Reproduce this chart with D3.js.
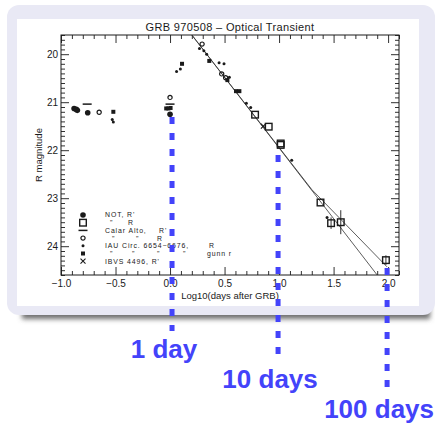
<!DOCTYPE html>
<html>
<head>
<meta charset="utf-8">
<script src="https://cdn.jsdelivr.net/npm/d3@7"></script>
<style>
  html, body { margin: 0; padding: 0; background: #fff; }
  svg { display: block; }
  text { font-family: "Liberation Sans", Helvetica, Arial, sans-serif; }
</style>
</head>
<body>
<div id="chart"></div>
<script>
// GRB 970508 light curve (log10 days, R mag)
var notRp   = [[-0.88, 21.13], [-0.86, 21.15], [-0.85, 21.17], [-0.755, 21.22], [0.0, 21.25]];
var notR    = [[0.78, 21.26], [0.905, 21.51], [1.015, 21.86], [1.015, 21.89], [1.38, 23.09],
               [1.477, 23.52, 0.12], [1.566, 23.50, 0.25], [1.98, 24.29, 0.10]];
var calarRp = [[-0.76, 21.04], [0.0, 21.04]];
var calarR  = [[-0.65, 21.21], [0.0, 20.90], [0.294, 19.79], [0.474, 20.41], [0.51, 20.49]];
var iauR    = [[-0.53, 21.36], [-0.52, 21.41], [0.06, 20.36], [0.095, 20.31], [0.27, 19.88],
               [0.31, 19.93], [0.336, 20.0], [0.45, 20.18], [0.495, 20.2], [0.544, 20.48],
               [0.70, 21.02], [0.74, 21.11], [1.116, 22.21], [1.44, 23.40]];
var iauGunn = [[-0.52, 21.2], [-0.035, 21.13], [-0.015, 21.13], [0.005, 21.12], [0.11, 20.2],
               [0.36, 20.14], [0.526, 20.54], [0.605, 20.77], [0.636, 20.77]];
var ibvsRp  = [[0.856, 21.5]];

var fitA = [[0.19, 19.57], [1.91, 24.63]];
var fitB = [[0.19, 19.57], [1.3, 22.82], [1.99, 24.43]];

var xMajor = [-1.0, -0.5, 0.0, 0.5, 1.0, 1.5, 2.0];
var xLabels = ['\u22121.0', '\u22120.5', '0.0', '0.5', '1.0', '1.5', '2.0'];
var yMajor = [20, 21, 22, 23, 24];

var legendRows = [
  ["NOT, R'"],
  ['"', 'R'],
  ['Calar Alto,', "R'"],
  ['"', '"', 'R'],
  ['IAU Circ. 6654\u22126676,', 'R'],
  ['"', '"', '"', '"', 'gunn r'],
  ["IBVS 4496, R'"]
];

var dayMarks = [0, 1, 2];
var dayLabels = ['1 day', '10 days', '100 days'];

// layout
var W = 435, H = 424,
    plotL = 61, plotR = 399, plotT = 35, plotB = 275,
    ink = '#1a1a1a',
    blue = '#4343fa';

var svg = d3.select('#chart').append('svg')
    .attr('width', W).attr('height', H);

var defs = svg.append('defs');
defs.append('filter').attr('id', 'blur')
    .attr('x', '-10%').attr('y', '-50%').attr('width', '120%').attr('height', '200%')
    .append('feGaussianBlur').attr('stdDeviation', 2.6);
defs.append('clipPath').attr('id', 'plotClip')
    .append('rect')
    .attr('x', plotL).attr('y', plotT)
    .attr('width', plotR - plotL).attr('height', plotB - plotT);

// card with shadow
svg.append('rect')
    .attr('x', 22).attr('y', 304).attr('width', 408).attr('height', 15)
    .attr('fill', '#6e6e6e').attr('filter', 'url(#blur)');
svg.append('rect')
    .attr('x', 7).attr('y', 5).attr('width', 428).attr('height', 310)
    .attr('rx', 12).attr('fill', '#e9e9f5');
svg.append('rect')
    .attr('x', 17).attr('y', 19).attr('width', 402).attr('height', 287)
    .attr('fill', '#ffffff');

var x = d3.scaleLinear().domain([-1.0, 2.1]).range([plotL, plotR]);
var y = d3.scaleLinear().domain([19.6, 24.6]).range([plotT, plotB]);

var xMinor = d3.range(-1.0, 2.1001, 0.1).filter(function(v) {
  return Math.abs(v * 2 - Math.round(v * 2)) > 1e-6;
});
var yMinor = d3.range(19.6, 24.6001, 0.1).filter(function(v) {
  return Math.abs(v - Math.round(v)) > 1e-6;
});

function styleAxis(g) {
  g.select('.domain').remove();
  g.selectAll('line').attr('stroke', ink).attr('stroke-width', 0.9);
  g.selectAll('text').attr('fill', ink).attr('font-size', '10px');
}

// ticks on all four sides, pointing inwards
svg.append('g').attr('transform', 'translate(0,' + plotB + ')')
    .call(d3.axisBottom(x).tickValues(xMajor).tickSize(-8).tickPadding(5)
      .tickFormat(function(d, i) { return xLabels[i]; }))
    .call(styleAxis);
svg.append('g').attr('transform', 'translate(0,' + plotB + ')')
    .call(d3.axisBottom(x).tickValues(xMinor).tickSize(-4).tickFormat(''))
    .call(styleAxis);
svg.append('g').attr('transform', 'translate(0,' + plotT + ')')
    .call(d3.axisTop(x).tickValues(xMajor).tickSize(-8).tickFormat(''))
    .call(styleAxis);
svg.append('g').attr('transform', 'translate(0,' + plotT + ')')
    .call(d3.axisTop(x).tickValues(xMinor).tickSize(-4).tickFormat(''))
    .call(styleAxis);

svg.append('g').attr('transform', 'translate(' + plotL + ',0)')
    .call(d3.axisLeft(y).tickValues(yMajor).tickSize(-8).tickPadding(3).tickFormat(d3.format('d')))
    .call(styleAxis);
svg.append('g').attr('transform', 'translate(' + plotL + ',0)')
    .call(d3.axisLeft(y).tickValues(yMinor).tickSize(-4).tickFormat(''))
    .call(styleAxis);
svg.append('g').attr('transform', 'translate(' + plotR + ',0)')
    .call(d3.axisRight(y).tickValues(yMajor).tickSize(-8).tickFormat(''))
    .call(styleAxis);
svg.append('g').attr('transform', 'translate(' + plotR + ',0)')
    .call(d3.axisRight(y).tickValues(yMinor).tickSize(-4).tickFormat(''))
    .call(styleAxis);

svg.append('rect')
    .attr('x', plotL).attr('y', plotT)
    .attr('width', plotR - plotL).attr('height', plotB - plotT)
    .attr('fill', 'none').attr('stroke', ink).attr('stroke-width', 1);

// titles
svg.append('text')
    .attr('x', (plotL + plotR) / 2).attr('y', 31)
    .attr('text-anchor', 'middle').attr('font-size', '11px')
    .attr('letter-spacing', '0.35px').attr('fill', ink)
    .text('GRB 970508 \u2013 Optical Transient');
svg.append('text')
    .attr('x', (plotL + plotR) / 2).attr('y', 299)
    .attr('text-anchor', 'middle').attr('font-size', '9.5px').attr('fill', ink)
    .text('Log10(days after GRB)');
svg.append('text')
    .attr('transform', 'translate(42,' + (plotT + plotB) / 2 + ') rotate(-90)')
    .attr('text-anchor', 'middle').attr('font-size', '9.5px').attr('fill', ink)
    .text('R magnitude');

// fits
var line = d3.line().x(function(d) { return x(d[0]); }).y(function(d) { return y(d[1]); });
var plot = svg.append('g').attr('clip-path', 'url(#plotClip)');
[fitA, fitB].forEach(function(f) {
  plot.append('path').datum(f).attr('d', line)
      .attr('fill', 'none').attr('stroke', '#333').attr('stroke-width', 0.8);
});

// marker painters
var painters = {
  filledCircle: function(g) {
    g.append('circle').attr('r', 2.8).attr('fill', ink);
  },
  openSquare: function(g) {
    g.append('rect').attr('x', -3.3).attr('y', -3.3).attr('width', 6.6).attr('height', 6.6)
        .attr('fill', 'none').attr('stroke', ink).attr('stroke-width', 1.4);
  },
  bar: function(g) {
    g.append('line').attr('x1', -4.5).attr('x2', 4.5)
        .attr('stroke', ink).attr('stroke-width', 1.5);
  },
  openCircle: function(g) {
    g.append('circle').attr('r', 2.1)
        .attr('fill', 'none').attr('stroke', ink).attr('stroke-width', 1.2);
  },
  dot: function(g) {
    g.append('circle').attr('r', 1.5).attr('fill', ink);
  },
  smallSquare: function(g) {
    g.append('rect').attr('x', -2).attr('y', -2).attr('width', 4).attr('height', 4).attr('fill', ink);
  },
  cross: function(g) {
    g.append('path').attr('d', 'M-2.5,-2.5L2.5,2.5M-2.5,2.5L2.5,-2.5')
        .attr('stroke', ink).attr('stroke-width', 1.1);
  }
};

var series = [
  {data: notRp, mark: 'filledCircle'},
  {data: notR, mark: 'openSquare'},
  {data: calarRp, mark: 'bar'},
  {data: calarR, mark: 'openCircle'},
  {data: iauR, mark: 'dot'},
  {data: iauGunn, mark: 'smallSquare'},
  {data: ibvsRp, mark: 'cross'}
];

series.forEach(function(s) {
  var pts = plot.append('g').selectAll('g')
      .data(s.data).enter().append('g')
      .attr('transform', function(d) { return 'translate(' + x(d[0]) + ',' + y(d[1]) + ')'; });
  pts.filter(function(d) { return d[2]; })
      .append('line')
      .attr('y1', function(d) { return y(d[1] - d[2]) - y(d[1]); })
      .attr('y2', function(d) { return y(d[1] + d[2]) - y(d[1]); })
      .attr('stroke', ink).attr('stroke-width', 0.9);
  pts.each(function() { painters[s.mark](d3.select(this)); });
});

// legend: symbol column plus text rows, spaced so the rows do not collide
var legendTop = 215, legendStep = 7.7, legendFont = 6.9;
var legendCols = [[105], [110, 128], [105, 159], [112, 136, 157], [105, 209], [110, 132, 157, 183, 207], [105]];
series.forEach(function(s, i) {
  var ry = legendTop + i * legendStep;
  var g = svg.append('g').attr('transform', 'translate(83,' + ry + ')');
  painters[s.mark](g);
  legendRows[i].forEach(function(t, j) {
    svg.append('text')
        .attr('x', legendCols[i][j])
        .attr('y', ry + 2.4)
        .attr('font-size', legendFont + 'px')
        .attr('letter-spacing', '0.9px')
        .attr('fill', ink)
        .text(t);
  });
});

// blue markers for 1, 10, 100 days
var dashNudge = [2, -1, -1];
var dashStart = [117, 155, 268], dashEnd = [331, 357, 388];
var labelY = [358, 388, 418];
dayMarks.forEach(function(v, i) {
  var lx = x(v) + dashNudge[i];
  svg.append('line')
      .attr('x1', lx).attr('x2', lx)
      .attr('y1', dashStart[i]).attr('y2', dashEnd[i])
      .attr('stroke', blue).attr('stroke-width', 5)
      .attr('stroke-dasharray', '7,9');
  svg.append('text')
      .attr('x', lx - 8).attr('y', labelY[i])
      .attr('text-anchor', 'middle')
      .attr('font-size', '26px').attr('font-weight', 'bold')
      .attr('fill', blue)
      .text(dayLabels[i]);
});
</script>
</body>
</html>
